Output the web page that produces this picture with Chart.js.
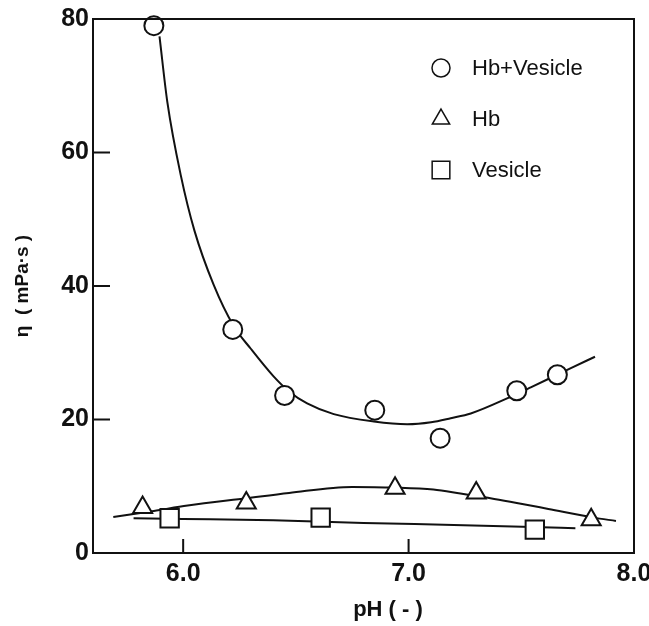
<!DOCTYPE html>
<html>
<head>
<meta charset="utf-8">
<script src="https://cdn.jsdelivr.net/npm/chart.js@4.4.1/dist/chart.umd.min.js"></script>
<style>
    html, body { margin: 0; padding: 0; background: #fff; }
    #wrap { width: 649px; height: 626px; }
</style>
</head>
<body>
<div id="wrap"><canvas id="viscChart"></canvas></div>
<script>
// measured points (pH, viscosity mPa·s)
const hbVesX = [5.87, 6.22, 6.45, 6.85, 7.14, 7.48, 7.66];
const hbVesY = [79.0, 33.5, 23.6, 21.4, 17.2, 24.3, 26.7];

const hbX = [5.82, 6.28, 6.94, 7.30, 7.81];
const hbY = [6.8, 7.5, 9.7, 9.0, 5.0];

const vesX = [5.94, 6.61, 7.56];
const vesY = [5.2, 5.3, 3.5];

// fitted curves
const hbVesCurveX = [5.895, 5.93, 5.99, 6.05, 6.135, 6.224, 6.30, 6.40, 6.47, 6.55, 6.668, 6.846, 6.994, 7.10, 7.187, 7.276, 7.453, 7.542, 7.72, 7.827];
const hbVesCurveY = [77.4, 67.5, 56.5, 48.3, 40.2, 34.0, 30.6, 26.5, 24.2, 22.4, 20.8, 19.7, 19.3, 19.6, 20.2, 20.9, 23.4, 24.8, 27.7, 29.4];

const hbCurveX = [5.69, 5.87, 6.02, 6.28, 6.47, 6.75, 6.94, 7.11, 7.23, 7.38, 7.48, 7.62, 7.82, 7.92];
const hbCurveY = [5.4, 6.3, 7.1, 8.2, 9.0, 9.9, 9.8, 9.5, 8.9, 8.1, 7.5, 6.6, 5.3, 4.8];

const vesCurveX = [5.78, 6.0, 6.4, 6.8, 7.2, 7.55, 7.74];
const vesCurveY = [5.2, 5.1, 4.9, 4.5, 4.2, 3.9, 3.7];

const xTicks = [6, 7, 8];
const yTicks = [0, 20, 40, 60, 80];

const toPts = (xs, ys) => xs.map((x, i) => ({ x: x, y: ys[i] }));

// frame + inward tick marks
const frameTicks = {
    id: 'frameTicks',
    afterDraw(chart) {
        const { ctx, chartArea, scales } = chart;
        ctx.save();
        ctx.strokeStyle = '#111';
        ctx.lineWidth = 2;
        ctx.strokeRect(chartArea.left, chartArea.top, chartArea.right - chartArea.left, chartArea.bottom - chartArea.top);
        ctx.beginPath();
        xTicks.forEach(v => {
            const px = scales.x.getPixelForValue(v);
            if (px < chartArea.right - 2) {
                ctx.moveTo(px, chartArea.bottom);
                ctx.lineTo(px, chartArea.bottom - 14);
            }
        });
        yTicks.forEach(v => {
            const py = scales.y.getPixelForValue(v);
            if (py > chartArea.top + 2 && py < chartArea.bottom - 2) {
                ctx.moveTo(chartArea.left, py);
                ctx.lineTo(chartArea.left + 17, py);
            }
        });
        ctx.stroke();
        ctx.restore();
    }
};

// legend drawn inside the plot area
const insideLegend = {
    id: 'insideLegend',
    afterDraw(chart) {
        const { ctx, chartArea } = chart;
        const items = chart.data.datasets.filter(d => d.label);
        ctx.save();
        ctx.font = '22px "Liberation Sans", Arial, sans-serif';
        ctx.textBaseline = 'middle';
        items.forEach((d, i) => {
            const sx = chartArea.left + 348;
            const sy = chartArea.top + 49 + i * 51;
            ctx.strokeStyle = '#111';
            ctx.fillStyle = '#fff';
            ctx.lineWidth = 1.5;
            Chart.helpers.drawPoint(ctx, {
                pointStyle: d.pointStyle,
                radius: d.pointStyle === 'rect' ? 12.5 : (d.pointStyle === 'triangle' ? 10 : 9),
                rotation: 0,
                borderWidth: 1.5
            }, sx, sy);
            ctx.fillStyle = '#111';
            ctx.fillText(d.label, chartArea.left + 379, sy + 1);
        });
        ctx.restore();
    }
};

const markerBase = {
    type: 'scatter',
    showLine: false,
    borderColor: '#111',
    backgroundColor: '#fff',
    pointBackgroundColor: '#fff',
    pointBorderColor: '#111',
    pointBorderWidth: 2,
    clip: false,
    order: 1
};

const curveBase = {
    type: 'scatter',
    showLine: true,
    borderColor: '#111',
    borderWidth: 2,
    pointRadius: 0,
    pointHoverRadius: 0,
    cubicInterpolationMode: 'monotone',
    fill: false,
    order: 2
};

const tickFont = { family: '"Liberation Sans", Arial, sans-serif', size: 25, weight: 'bold' };

const ctx = document.getElementById('viscChart').getContext('2d');

new Chart(ctx, {
    data: {
        datasets: [
            { ...markerBase, label: 'Hb+Vesicle', data: toPts(hbVesX, hbVesY), pointStyle: 'circle', pointRadius: 9.5 },
            { ...markerBase, label: 'Hb', data: toPts(hbX, hbY), pointStyle: 'triangle', pointRadius: 11 },
            { ...markerBase, label: 'Vesicle', data: toPts(vesX, vesY), pointStyle: 'rect', pointRadius: 13 },
            { ...curveBase, data: toPts(hbVesCurveX, hbVesCurveY) },
            { ...curveBase, data: toPts(hbCurveX, hbCurveY) },
            { ...curveBase, data: toPts(vesCurveX, vesCurveY) }
        ]
    },
    options: {
        responsive: true,
        maintainAspectRatio: false,
        animation: false,
        layout: { padding: { top: 19, right: 15, left: 0, bottom: 0 } },
        plugins: {
            legend: { display: false },
            tooltip: { enabled: false }
        },
        scales: {
            x: {
                type: 'linear',
                min: 5.6,
                max: 8.0,
                afterBuildTicks: (scale) => { scale.ticks = xTicks.map(v => ({ value: v })); },
                afterFit: (scale) => {
                    scale.height = 73;
                    scale.paddingLeft = 0;
                    scale.paddingRight = 0;
                },
                grid: { display: false, drawTicks: false },
                border: { display: true, color: '#111', width: 2 },
                ticks: {
                    color: '#111',
                    padding: 6,
                    maxRotation: 0,
                    font: tickFont,
                    callback: (v) => Number(v).toFixed(1)
                },
                title: {
                    display: true,
                    text: '        pH ( - )',
                    color: '#111',
                    padding: { top: 0, bottom: 3 },
                    font: { family: '"Liberation Sans", Arial, sans-serif', size: 22, weight: 'bold' }
                }
            },
            y: {
                type: 'linear',
                min: 0,
                max: 80,
                afterBuildTicks: (scale) => { scale.ticks = yTicks.map(v => ({ value: v })); },
                afterFit: (scale) => {
                    scale.width = 93;
                    scale.paddingTop = 0;
                    scale.paddingBottom = 0;
                },
                grid: { display: false, drawTicks: false },
                border: { display: true, color: '#111', width: 2 },
                ticks: {
                    color: '#111',
                    padding: 4,
                    font: tickFont
                },
                title: {
                    display: true,
                    text: 'η  ( mPa·s )',
                    color: '#111',
                    padding: { top: 11, bottom: 0 },
                    font: { family: '"Liberation Sans", Arial, sans-serif', size: 19, weight: 'bold' }
                }
            }
        }
    },
    plugins: [frameTicks, insideLegend]
});
</script>
</body>
</html>
